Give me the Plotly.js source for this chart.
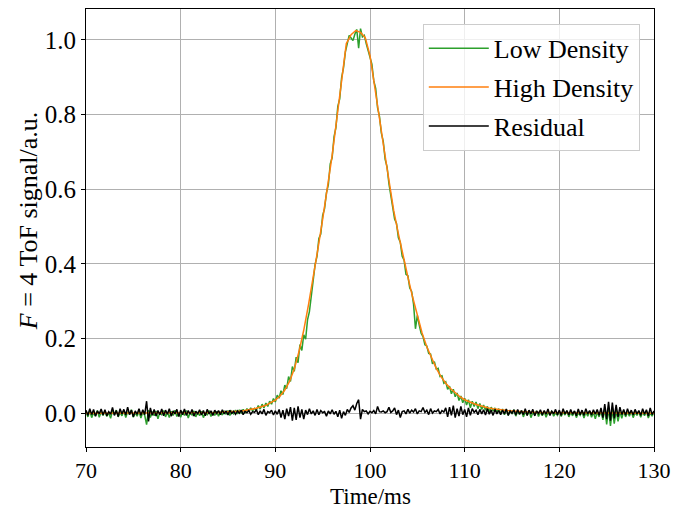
<!DOCTYPE html>
<html>
<head>
<meta charset="utf-8">
<script src="https://cdn.plot.ly/plotly-3.0.1.min.js"></script>
<style>html,body{margin:0;padding:0;background:#fff;}#chart{width:688px;height:510px;}</style>
</head>
<body>
<div id="chart"></div>
<script>
// Time axis for the noisy traces: 70 ms to 130 ms, every 0.2 ms
const noisyStart = 70, noisyStep = 0.2, noisyCount = 301;
const timeNoisy = Array.from({length: noisyCount}, (_, i) => +(noisyStart + noisyStep * i).toFixed(1));

// High density (smooth) sampled every 0.5 ms
const timeHigh = [
  70,70.5,71,71.5,72,72.5,73,73.5,74,74.5,75,75.5,76,76.5,77,77.5,78,78.5,79,79.5,
  80,80.5,81,81.5,82,82.5,83,83.5,84,84.5,85,85.5,86,86.5,87,87.5,88,88.5,89,89.5,
  90,90.5,91,91.5,92,92.5,93,93.5,94,94.5,95,95.5,96,96.5,97,97.5,98,98.5,99,99.5,
  100,100.5,101,101.5,102,102.5,103,103.5,104,104.5,105,105.5,106,106.5,107,107.5,108,108.5,109,109.5,
  110,110.5,111,111.5,112,112.5,113,113.5,114,114.5,115,115.5,116,116.5,117,117.5,118,118.5,119,119.5,
  120,120.5,121,121.5,122,122.5,123,123.5,124,124.5,125,125.5,126,126.5,127,127.5,128,128.5,129,129.5,130
];
const highDensity = [
  0.000,0.000,0.000,0.000,0.000,0.000,0.000,0.000,0.000,0.000,0.001,0.001,0.001,0.001,0.001,0.001,0.001,0.001,0.001,0.001,
  0.001,0.001,0.001,0.001,0.002,0.002,0.002,0.002,0.002,0.003,0.003,0.004,0.005,0.006,0.008,0.010,0.013,0.017,0.021,0.028,
  0.035,0.046,0.062,0.085,0.118,0.165,0.222,0.290,0.360,0.440,0.520,0.600,0.690,0.790,0.890,0.990,1.014,1.025,1.020,1.006,
  0.958,0.880,0.790,0.705,0.622,0.543,0.480,0.420,0.365,0.311,0.265,0.215,0.178,0.148,0.120,0.098,0.080,0.066,0.054,0.044,
  0.036,0.030,0.025,0.021,0.017,0.014,0.012,0.010,0.008,0.007,0.006,0.005,0.004,0.003,0.003,0.002,0.002,0.002,0.001,0.001,
  0.001,0.001,0.001,0.001,0.001,0.000,0.000,0.000,0.000,0.000,0.000,0.000,0.000,0.000,0.000,0.000,0.000,0.000,0.000,0.000,0.000
];

// Low density (noisy), every 0.2 ms
const lowDensity = [
  0.004,-0.010,0.006,-0.012,0.002,-0.008,0.007,-0.011,0.003,-0.006,
  0.005,-0.009,0.001,-0.014,0.006,-0.004,0.008,-0.010,0.002,-0.007,
  0.006,-0.012,0.004,-0.003,0.009,-0.011,0.001,-0.008,0.005,-0.013,
  0.003,-0.006,-0.031,0.008,-0.012,0.004,-0.007,0.006,-0.015,0.002,
  -0.004,0.007,-0.010,0.003,-0.012,0.005,-0.006,0.008,-0.009,0.001,
  -0.011,0.004,-0.006,0.007,-0.013,0.002,-0.005,0.006,-0.010,0.003,
  -0.007,0.005,-0.012,0.001,-0.004,0.007,-0.009,0.003,-0.006,0.005,
  -0.008,0.004,-0.005,0.006,-0.003,0.007,-0.006,0.005,-0.002,0.008,
  -0.002,0.009,0.001,0.010,0.000,0.012,0.004,0.014,0.006,0.013,
  0.009,0.020,0.011,0.024,0.014,0.027,0.018,0.032,0.024,0.039,
  0.030,0.048,0.040,0.060,0.050,0.075,0.066,0.098,0.085,0.125,
  0.112,0.150,0.135,0.184,0.168,0.210,0.198,0.250,0.272,0.318,
  0.350,0.398,0.420,0.468,0.480,0.530,0.548,0.590,0.612,0.668,
  0.684,0.740,0.765,0.822,0.842,0.898,0.925,0.968,0.990,1.012,
  1.005,0.998,1.015,1.028,0.978,1.030,1.008,1.012,0.990,0.972,
  0.955,0.935,0.890,0.870,0.818,0.795,0.750,0.728,0.680,0.660,
  0.615,0.585,0.560,0.520,0.508,0.470,0.458,0.420,0.410,0.372,
  0.368,0.335,0.326,0.292,0.226,0.262,0.236,0.214,0.205,0.183,
  0.180,0.160,0.158,0.132,0.138,0.118,0.120,0.098,0.100,0.080,
  0.084,0.064,0.072,0.052,0.064,0.044,0.054,0.034,0.046,0.028,
  0.040,0.022,0.036,0.014,0.032,0.018,0.030,0.012,0.026,0.010,
  0.022,0.008,0.018,0.004,0.016,0.006,0.014,0.002,0.012,-0.002,
  0.011,-0.004,0.010,-0.006,0.008,-0.002,0.009,-0.008,0.006,-0.003,
  0.007,-0.010,0.004,-0.006,0.008,-0.012,0.002,-0.005,0.006,-0.009,
  0.003,-0.007,0.005,-0.011,0.002,-0.004,0.006,-0.008,0.001,-0.006,
  0.004,-0.009,0.003,-0.005,0.006,-0.010,0.002,-0.007,0.005,-0.012,
  0.001,-0.006,0.004,-0.013,0.003,-0.008,0.005,-0.011,0.002,-0.015,
  0.003,-0.010,0.006,-0.018,0.012,-0.030,0.014,-0.034,0.010,-0.028,
  0.008,-0.022,0.004,-0.014,0.006,-0.010,0.003,-0.008,0.005,-0.012,
  0.002,-0.006,0.004,-0.011,0.003,-0.007,0.005,-0.013,0.001,-0.008,0.003
];

// Residual, every 0.2 ms
const residual = [
  0.008,-0.006,0.012,-0.004,0.010,-0.008,0.006,-0.002,0.011,-0.005,
  0.009,-0.007,0.004,-0.003,0.015,-0.006,0.007,-0.009,0.012,-0.002,
  0.010,-0.005,0.016,-0.004,0.008,-0.010,0.006,-0.003,0.012,-0.006,
  0.009,-0.004,0.032,-0.022,0.014,-0.006,0.010,-0.008,0.007,-0.004,
  0.011,-0.007,0.008,-0.003,0.012,-0.008,0.006,-0.002,0.010,-0.009,
  0.008,-0.004,0.011,-0.006,0.007,-0.003,0.010,-0.008,0.005,-0.002,
  0.009,-0.005,0.007,-0.007,0.010,-0.002,0.006,-0.006,0.008,-0.001,
  0.007,-0.004,0.009,-0.002,0.006,-0.005,0.008,-0.001,0.005,-0.003,
  0.006,0.000,0.008,-0.004,0.005,0.001,0.007,-0.003,0.004,0.002,
  0.009,-0.004,0.006,-0.002,0.010,-0.006,0.004,0.001,0.008,-0.005,
  0.006,-0.003,0.010,-0.012,0.008,-0.016,0.012,-0.008,0.016,-0.020,
  0.014,-0.018,0.018,-0.012,0.010,-0.016,0.008,-0.004,0.012,-0.002,
  0.006,-0.006,0.010,-0.004,0.007,0.001,0.004,-0.008,0.006,-0.002,
  0.009,-0.003,0.005,-0.010,0.008,-0.014,0.004,-0.006,0.010,0.002,
  0.014,0.020,0.008,0.026,0.036,-0.016,0.010,0.004,0.006,-0.002,
  0.005,0.001,0.007,-0.002,0.018,0.004,0.003,0.006,0.001,0.004,
  0.016,0.002,0.006,0.014,-0.004,0.008,-0.012,0.004,0.006,-0.002,
  0.010,0.000,0.008,0.003,0.012,-0.002,0.006,0.004,0.015,0.002,
  0.008,-0.004,0.012,0.000,0.006,0.004,0.010,-0.002,0.007,0.003,
  0.014,-0.010,0.016,-0.006,0.020,-0.012,0.012,-0.008,0.018,-0.004,
  0.010,-0.010,0.014,-0.006,0.012,0.002,0.008,-0.004,0.010,-0.002,
  0.009,-0.005,0.012,-0.003,0.008,-0.006,0.010,-0.002,0.007,-0.004,
  0.008,-0.002,0.011,-0.006,0.006,0.000,0.009,-0.005,0.010,-0.003,
  0.007,-0.004,0.012,-0.006,0.008,-0.002,0.010,-0.007,0.006,-0.001,
  0.009,-0.005,0.007,-0.003,0.011,-0.006,0.005,-0.002,0.010,-0.004,
  0.008,-0.006,0.012,-0.002,0.007,-0.005,0.010,-0.003,0.006,-0.007,
  0.011,-0.004,0.008,-0.006,0.012,-0.002,0.007,-0.005,0.009,-0.003,
  0.010,-0.006,0.014,-0.012,0.024,-0.016,0.030,-0.020,0.028,-0.014,
  0.022,-0.010,0.016,-0.004,0.010,-0.006,0.012,-0.003,0.008,-0.005,
  0.010,-0.002,0.007,-0.006,0.012,-0.003,0.009,-0.008,0.014,-0.004,0.006
];

const xTicks = [70, 80, 90, 100, 110, 120, 130];
const yTicks = [0.0, 0.2, 0.4, 0.6, 0.8, 1.0];
const seriesNames = ['Low Density', 'High Density', 'Residual'];
const xTitle = 'Time/ms';
const yTitle = '<i>F</i> = 4 ToF signal/a.u.';

const FONT = 'Liberation Serif, DejaVu Serif, serif';

const traces = [
  {x: timeNoisy, y: lowDensity, name: seriesNames[0], type: 'scatter', mode: 'lines',
   line: {color: '#2ca02c', width: 1.5}, legendgroup: 'a'},
  {x: timeHigh, y: highDensity, name: seriesNames[1], type: 'scatter', mode: 'lines',
   line: {color: '#ff7f0e', width: 1.5}, legendgroup: 'b'},
  {x: timeNoisy, y: residual, name: seriesNames[2], type: 'scatter', mode: 'lines',
   line: {color: '#000000', width: 1.5}, legendgroup: 'c'}
];

const layout = {
  width: 688, height: 510,
  margin: {l: 86, r: 34, t: 9, b: 63},
  paper_bgcolor: '#fff', plot_bgcolor: '#fff',
  font: {family: FONT, size: 26, color: '#000'},
  showlegend: true,
  legend: {
    x: 0.975, y: 0.966, xanchor: 'right', yanchor: 'top',
    bgcolor: 'rgba(255,255,255,0.8)', bordercolor: '#cccccc', borderwidth: 1,
    font: {family: FONT, size: 26, color: '#000'},
    tracegroupgap: 2, traceorder: 'grouped', itemwidth: 60
  },
  xaxis: {
    range: [70, 130], tickvals: xTicks, ticktext: xTicks.map(String),
    showgrid: true, gridcolor: '#b0b0b0', gridwidth: 1,
    showline: true, linecolor: '#000', linewidth: 1, mirror: true,
    ticks: 'outside', ticklen: 4, tickcolor: '#000', tickwidth: 1,
    zeroline: false,
    tickfont: {family: FONT, size: 22}
  },
  yaxis: {
    range: [-0.0907, 1.0827], tickvals: yTicks, ticktext: yTicks.map(v => v.toFixed(1)),
    showgrid: true, gridcolor: '#b0b0b0', gridwidth: 1,
    showline: true, linecolor: '#000', linewidth: 1, mirror: true,
    ticks: 'outside', ticklen: 4, tickcolor: '#000', tickwidth: 1,
    zeroline: false,
    tickfont: {family: FONT, size: 25}
  },
  annotations: [
    {text: xTitle, xref: 'paper', yref: 'paper', x: 0.5, y: -0.1437,
     xanchor: 'center', yanchor: 'bottom', showarrow: false, borderpad: 0,
     font: {family: FONT, size: 23, color: '#000'}},
    {text: yTitle, xref: 'paper', yref: 'paper', x: -0.1, y: 0.516,
     xanchor: 'center', yanchor: 'middle', showarrow: false, textangle: -90,
     font: {family: FONT, size: 26, color: '#000'}}
  ]
};

Plotly.newPlot('chart', traces, layout, {staticPlot: true, displayModeBar: false});
</script>
</body>
</html>
